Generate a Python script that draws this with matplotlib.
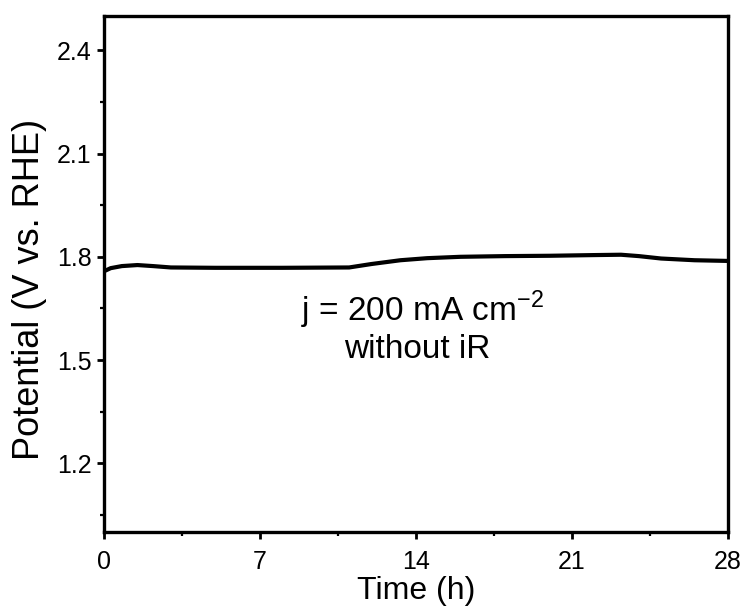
import matplotlib
matplotlib.use("Agg")
import matplotlib.pyplot as plt
from matplotlib.ticker import MultipleLocator

plt.rcParams['font.family'] = ['Liberation Sans', 'DejaVu Sans']
plt.rcParams['mathtext.fontset'] = 'custom'
plt.rcParams['mathtext.rm'] = 'Liberation Sans'

# chronopotentiometry readout
time_h = [0, 0.3, 0.8, 1.5, 2.2, 3.0, 5.0, 8.0, 11.0, 12.0, 13.3, 14.5, 16.0, 18.0, 20.0, 22.0, 23.2, 24.0, 25.0, 26.5, 28.0]
potential = [1.758, 1.767, 1.773, 1.776, 1.773, 1.769, 1.768, 1.768, 1.769, 1.779, 1.790, 1.796, 1.800, 1.802, 1.803, 1.805, 1.806, 1.802, 1.795, 1.790, 1.788]

x_ticks = [0, 7, 14, 21, 28]
y_ticks = [1.2, 1.5, 1.8, 2.1, 2.4]

fig = plt.figure(figsize=(7.42, 6.10), dpi=100)
ax = fig.add_axes([104 / 742, 1 - 532 / 610, 624 / 742, 516 / 610])

ax.plot(time_h, potential, color="black", linewidth=3.0)

ax.set_xlim(0, 28)
ax.set_ylim(1.0, 2.5)
ax.set_xticks(x_ticks)
ax.set_yticks(y_ticks)
ax.xaxis.set_minor_locator(MultipleLocator(3.5))
ax.yaxis.set_minor_locator(MultipleLocator(0.15))
ax.tick_params(which="major", direction="out", length=5, width=2.0, labelsize=18)
ax.tick_params(which="minor", direction="out", length=3, width=1.6)
ax.tick_params(axis="x", which="major", pad=8)
ax.tick_params(axis="y", which="major", pad=4)
for s in ax.spines.values():
    s.set_linewidth(2.4)

ax.set_xlabel("Time (h)", fontsize=23)
ax.set_ylabel("Potential (V vs. RHE)", fontsize=26)
ax.xaxis.set_label_coords(0.5, -0.085)
ax.yaxis.set_label_coords(-0.092, 0.47)

ax.text(14.3, 1.646, "j = 200 mA cm$^{\\mathregular{-2}}$", fontsize=24, ha="center", va="center")
ax.text(14.05, 1.53, "without iR", fontsize=24, ha="center", va="center")

fig.savefig("out.png", dpi=100)
